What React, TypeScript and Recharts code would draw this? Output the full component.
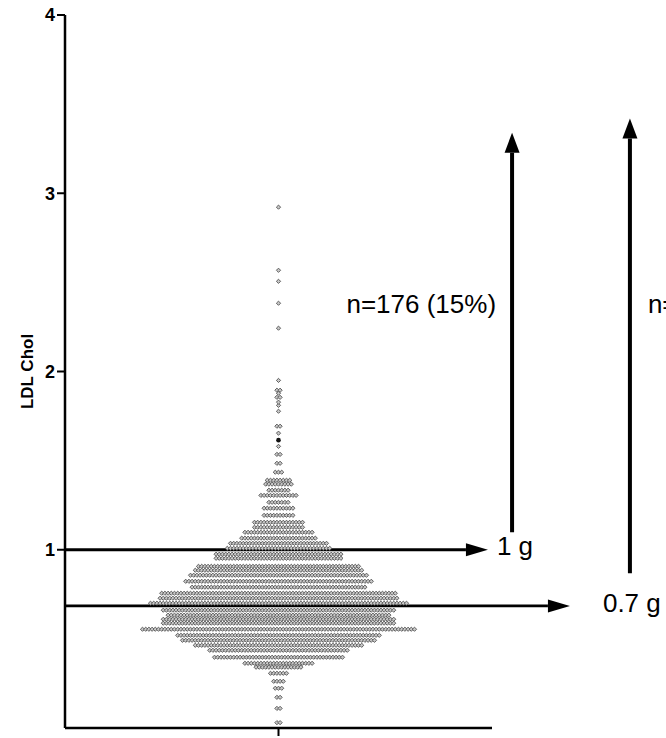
import React from 'react';
import { ScatterChart, Scatter, XAxis, YAxis, ReferenceLine } from 'recharts';

// LDL cholesterol (g/L): levels of the swarm and the number of patients on each
const levels = [
  0.03, 0.11, 0.172, 0.223, 0.262, 0.307, 0.341, 0.363, 0.397, 0.436,
  0.464, 0.492, 0.52, 0.554, 0.588, 0.61, 0.633, 0.661, 0.7, 0.728,
  0.756, 0.79, 0.823, 0.857, 0.885, 0.907, 0.952, 0.975, 1.008, 1.036,
  1.065, 1.098, 1.126, 1.154, 1.193, 1.233, 1.266, 1.305, 1.334, 1.368,
  1.39, 1.435, 1.485, 1.535, 1.58, 1.654, 1.693, 1.777, 1.81, 1.828,
  1.855, 1.878, 1.895, 1.95, 2.243, 2.383, 2.506, 2.568, 2.922,
];
const counts = [
  2, 2, 2, 3, 4, 6, 15, 22, 41, 44,
  53, 61, 64, 86, 73, 73, 70, 73, 81, 75,
  74, 55, 59, 56, 53, 51, 40, 40, 33, 31,
  24, 22, 16, 16, 10, 10, 7, 12, 7, 9,
  8, 3, 2, 2, 1, 1, 2, 1, 1, 1,
  2, 1, 2, 1, 1, 1, 1, 1, 1,
];
// the one darker (overlapping) point
const darkValues = [1.615];

const yTicks = [0, 1, 2, 3, 4];
const thresholdLabels = ['1 g', '0.7 g'];
const countLabels = ['n=176 (15%)', 'n='];

const W = 666;
const H = 738;
const STEP = 3.2 / 213.5; // horizontal gap between neighbours, in x units
const FONT = '"Liberation Sans", Arial, sans-serif';

// lay each level out as a centred row
const swarm = levels.flatMap((v, r) =>
  Array.from({ length: counts[r] }, (_, i) => ({ x: (i - (counts[r] - 1) / 2) * STEP, y: v }))
);
const dark = darkValues.map((v) => ({ x: 0, y: v }));

const Dot = (props: any) => {
  const { cx, cy } = props;
  return (
    <path
      d={`M${cx},${cy - 2.1}L${cx + 2.1},${cy}L${cx},${cy + 2.1}L${cx - 2.1},${cy}Z`}
      fill="#c8c8c8"
      stroke="#505050"
      strokeWidth={0.9}
    />
  );
};

const DarkDot = (props: any) => <circle cx={props.cx} cy={props.cy} r={2.3} fill="#111" />;

const Arrow = (p: any) => {
  const { x1, y1, x2, y2, w, head, half, text, tx, ty, anchor } = p;
  const dx = x2 - x1;
  const dy = y2 - y1;
  const len = Math.hypot(dx, dy) || 1;
  const ux = dx / len;
  const uy = dy / len;
  const bx = x2 - ux * head;
  const by = y2 - uy * head;
  const px = -uy * half;
  const py = ux * half;
  return (
    <g>
      <line x1={x1} y1={y1} x2={bx} y2={by} stroke="#000" strokeWidth={w} />
      <polygon points={`${x2},${y2} ${bx + px},${by + py} ${bx - px},${by - py}`} fill="#000" />
      {text && (
        <text x={tx(p)} y={ty(p)} textAnchor={anchor} fontFamily={FONT} fontSize={26} fill="#000">
          {text}
        </text>
      )}
    </g>
  );
};

const App: React.FC = () => {
  return (
    <div style={{ position: 'absolute', left: 0, top: 0, width: W, height: H, background: '#fff', overflow: 'hidden' }}>
      <ScatterChart width={W} height={H} margin={{ top: 15, right: 174, bottom: 0, left: 0 }} style={{ fontFamily: FONT }}>
        <XAxis
          type="number"
          dataKey="x"
          domain={[-1, 1]}
          ticks={[0]}
          tickFormatter={() => ''}
          tickSize={8}
          height={10}
          axisLine={{ stroke: '#000', strokeWidth: 2.5 }}
          tickLine={{ stroke: '#000', strokeWidth: 2 }}
        />
        <YAxis
          type="number"
          dataKey="y"
          domain={[0, 4]}
          ticks={yTicks}
          width={65}
          tickSize={8}
          tickMargin={2}
          axisLine={{ stroke: '#000', strokeWidth: 2.5 }}
          tickLine={{ stroke: '#000', strokeWidth: 2 }}
          tick={{ fill: '#000', fontSize: 18, fontWeight: 'bold', fontFamily: FONT }}
          label={{
            value: 'LDL Chol',
            angle: -90,
            position: 'center',
            dx: -6,
            style: { fontSize: 17, fontWeight: 'bold', fill: '#000', fontFamily: FONT },
          }}
        />
        <Scatter data={swarm} shape={<Dot />} isAnimationActive={false} />
        <Scatter data={dark} shape={<DarkDot />} isAnimationActive={false} />

        <ReferenceLine
          segment={[{ x: -1, y: 1.0 }, { x: 0.981, y: 1.0 }]}
          ifOverflow="visible"
          shape={(p: any) => (
            <Arrow {...p} w={3} head={22} half={6.5} text={thresholdLabels[0]} anchor="start"
              tx={(q: any) => q.x2 + 9} ty={(q: any) => q.y2 + 5} />
          )}
        />
        <ReferenceLine
          segment={[{ x: -1, y: 0.685 }, { x: 1.365, y: 0.685 }]}
          ifOverflow="visible"
          shape={(p: any) => (
            <Arrow {...p} w={2.6} head={22} half={6.5} text={thresholdLabels[1]} anchor="start"
              tx={(q: any) => q.x2 + 33} ty={(q: any) => q.y2 + 6} />
          )}
        />
        <ReferenceLine
          segment={[{ x: 1.094, y: 1.098 }, { x: 1.094, y: 3.34 }]}
          ifOverflow="visible"
          shape={(p: any) => (
            <Arrow {...p} w={4} head={20} half={7.5} text={countLabels[0]} anchor="end"
              tx={(q: any) => q.x1 - 16} ty={() => 313} />
          )}
        />
        <ReferenceLine
          segment={[{ x: 1.646, y: 0.868 }, { x: 1.646, y: 3.42 }]}
          ifOverflow="visible"
          shape={(p: any) => (
            <Arrow {...p} w={4} head={20} half={7.5} text={countLabels[1]} anchor="start"
              tx={(q: any) => q.x1 + 18} ty={() => 313} />
          )}
        />
      </ScatterChart>
    </div>
  );
};

export default App;
